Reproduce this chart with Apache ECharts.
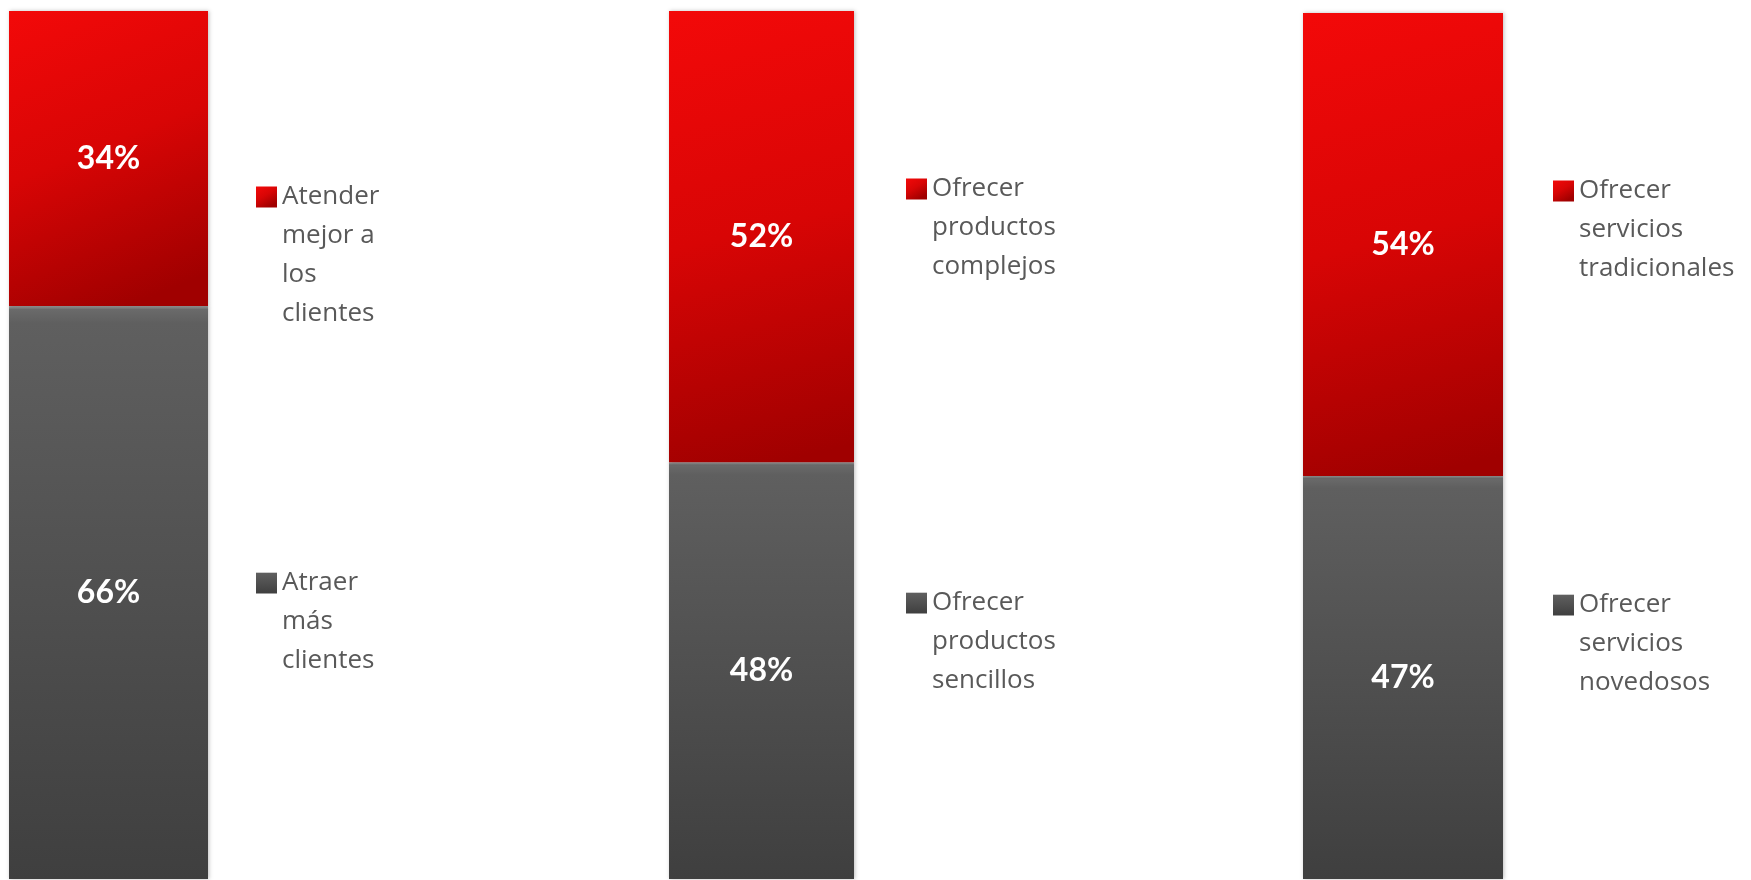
<!DOCTYPE html>
<html>
<head>
<meta charset="utf-8">
<script src="https://cdn.jsdelivr.net/npm/echarts@6/dist/echarts.min.js"></script>
<style>
  html, body { margin: 0; padding: 0; background: #fff; }
  #main { width: 1751px; height: 880px; }
</style>
</head>
<body>
<div id="main"></div>
<script>
// datos de las tres columnas apiladas
const topNames = ['Atender mejor a los clientes', 'Ofrecer productos complejos', 'Ofrecer servicios tradicionales']
const bottomNames = ['Atraer más clientes', 'Ofrecer productos sencillos', 'Ofrecer servicios novedosos']
const topValues = [34, 52, 54]
const bottomValues = [66, 48, 47]
// texto de la leyenda partido en lineas como en la imagen
const topLegendLines = [['Atender', 'mejor a', 'los', 'clientes'], ['Ofrecer', 'productos', 'complejos'], ['Ofrecer', 'servicios', 'tradicionales']]
const bottomLegendLines = [['Atraer', 'más', 'clientes'], ['Ofrecer', 'productos', 'sencillos'], ['Ofrecer', 'servicios', 'novedosos']]

// posiciones
const barLeft = [9, 669, 1303]
const barWidth = [199, 185, 200]
const barTop = [11, 11, 13]
const legendLeft = [256, 906, 1553]
const topIconY = [197, 189, 191]
const bottomIconY = [583, 603, 605]

const LH = 39

var myChart = echarts.init(document.getElementById('main'))

const redFill = {
    type: 'linear', x: 0, y: 0, x2: 0.6, y2: 1,
    colorStops: [
        {offset: 0, color: '#f30909'},
        {offset: 0.5, color: '#d80505'},
        {offset: 1, color: '#a00000'}
    ]
}
const grayFill = {
    type: 'linear', x: 0, y: 0, x2: 0, y2: 1,
    colorStops: [
        {offset: 0, color: '#9c9c9c'},
        {offset: 0.006, color: '#6a6a6a'},
        {offset: 0.03, color: '#5f5f5f'},
        {offset: 1, color: '#3f3f3f'}
    ]
}

function legendItem(name, lines, left, cy) {
    const n = lines.length
    return {
        left: left,
        top: cy - (2 * n - 1) * LH / 2,
        orient: 'vertical',
        padding: 0,
        selectedMode: false,
        icon: 'rect',
        itemWidth: 21,
        itemHeight: 21,
        itemGap: 0,
        data: [name],
        formatter: function () {
            return '\n'.repeat(n - 1) + lines.join('\n')
        },
        textStyle: {
            fontFamily: 'Open Sans',
            fontSize: 26,
            lineHeight: LH,
            color: '#595959'
        }
    }
}

const grid = []
const xAxis = []
const yAxis = []
const series = []
const legend = []

const label = {
    show: true,
    position: 'inside',
    formatter: '{c}%',
    color: '#fff',
    fontFamily: 'Lato',
    fontWeight: 'bold',
    fontSize: 32
}

for (let i = 0; i < 3; i++) {
    grid.push({left: barLeft[i], width: barWidth[i], top: barTop[i], bottom: 1})
    xAxis.push({type: 'category', gridIndex: i, data: [''], show: false})
    yAxis.push({type: 'value', gridIndex: i, min: 0, max: topValues[i] + bottomValues[i], show: false})
    series.push({
        name: bottomNames[i],
        type: 'bar',
        stack: 's' + i,
        xAxisIndex: i,
        yAxisIndex: i,
        barWidth: '100%',
        data: [bottomValues[i]],
        label: label,
        itemStyle: {color: grayFill, shadowColor: 'rgba(0,0,0,0.25)', shadowBlur: 4, shadowOffsetX: 1}
    })
    series.push({
        name: topNames[i],
        type: 'bar',
        stack: 's' + i,
        xAxisIndex: i,
        yAxisIndex: i,
        barWidth: '100%',
        data: [topValues[i]],
        label: label,
        itemStyle: {color: redFill, shadowColor: 'rgba(0,0,0,0.25)', shadowBlur: 4, shadowOffsetX: 1}
    })
    legend.push(legendItem(topNames[i], topLegendLines[i], legendLeft[i], topIconY[i]))
    legend.push(legendItem(bottomNames[i], bottomLegendLines[i], legendLeft[i], bottomIconY[i]))
}

var option = {
    animation: false,
    grid: grid,
    xAxis: xAxis,
    yAxis: yAxis,
    legend: legend,
    series: series
}
myChart.setOption(option)
</script>
</body>
</html>
